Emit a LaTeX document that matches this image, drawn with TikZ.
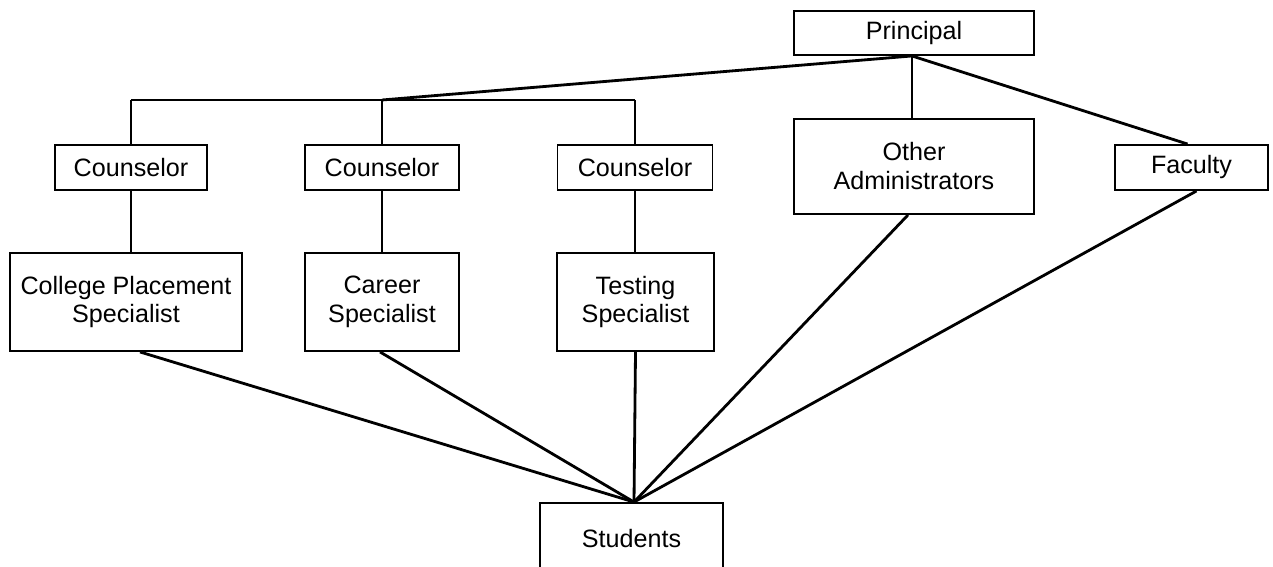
\documentclass[tikz,border=0pt]{standalone}
\usepackage{fontspec}
\setmainfont{Liberation Sans}
\begin{document}
\begin{tikzpicture}[x=0.02cm,y=-0.02cm,
  box/.style={draw,line width=1.1pt,inner sep=0pt,align=center,
    font=\fontsize{14.3}{16.5}\selectfont},
  conn/.style={line width=1.6pt}]
\useasboundingbox (0,0) rectangle (1273,567);
% nodes
\node[box,minimum width=4.8cm,minimum height=0.88cm] (pri) at (914,33) {Principal};
\node[box,minimum width=3.04cm,minimum height=0.9cm] (c1) at (131,167.5) {Counselor};
\node[box,minimum width=3.08cm,minimum height=0.9cm] (c2) at (382,167.5) {Counselor};
\node[box,minimum width=3.1cm,minimum height=0.9cm] (c3) at (635,167.5) {Counselor};
\node[box,minimum width=4.8cm,minimum height=1.9cm] (oa) at (914,166.5) {Other\\Administrators};
\node[box,minimum width=3.06cm,minimum height=0.9cm] (fac) at (1191.5,167.5) {Faculty};
\node[box,minimum width=4.64cm,minimum height=1.96cm] (cps) at (126,302) {College Placement\\Specialist};
\node[box,minimum width=3.08cm,minimum height=1.96cm] (car) at (382,302) {Career\\Specialist};
\node[box,minimum width=3.14cm,minimum height=1.96cm] (tst) at (635.5,302) {Testing\\Specialist};
\node[box,minimum width=3.66cm,minimum height=1.44cm] (stu) at (631.5,539) {Students};
% junctions
\coordinate (cj) at (382,100);
\coordinate (sj) at ([xshift=0.05cm]stu.north);
% connectors
\draw[conn] ([xshift=-0.04cm]pri.south) -- (cj);
\draw[conn] (c1.north |- cj) -- (c3.north |- cj);
\draw[conn] (c1.north |- cj) -- (c1.north);
\draw[conn] (cj) -- (c2.north);
\draw[conn] (c3.north |- cj) -- (c3.north);
\draw[conn] ([xshift=-0.04cm]pri.south) -- ([xshift=-0.04cm]oa.north);
\draw[conn] ([xshift=-0.04cm]pri.south) -- ([xshift=-0.08cm]fac.north);
\draw[conn] (c1.south) -- (c1.south |- cps.north);
\draw[conn] (c2.south) -- (car.north);
\draw[conn] (c3.south) -- (c3.south |- tst.north);
\draw[conn] ([xshift=0.28cm]cps.south) -- (sj);
\draw[conn] ([xshift=-0.04cm]car.south) -- (sj);
\draw[conn] (tst.south) -- (sj);
\draw[conn] ([xshift=-0.12cm]oa.south) -- (sj);
\draw[conn] ([xshift=0.1cm]fac.south) -- (sj);
\end{tikzpicture}
\end{document}
